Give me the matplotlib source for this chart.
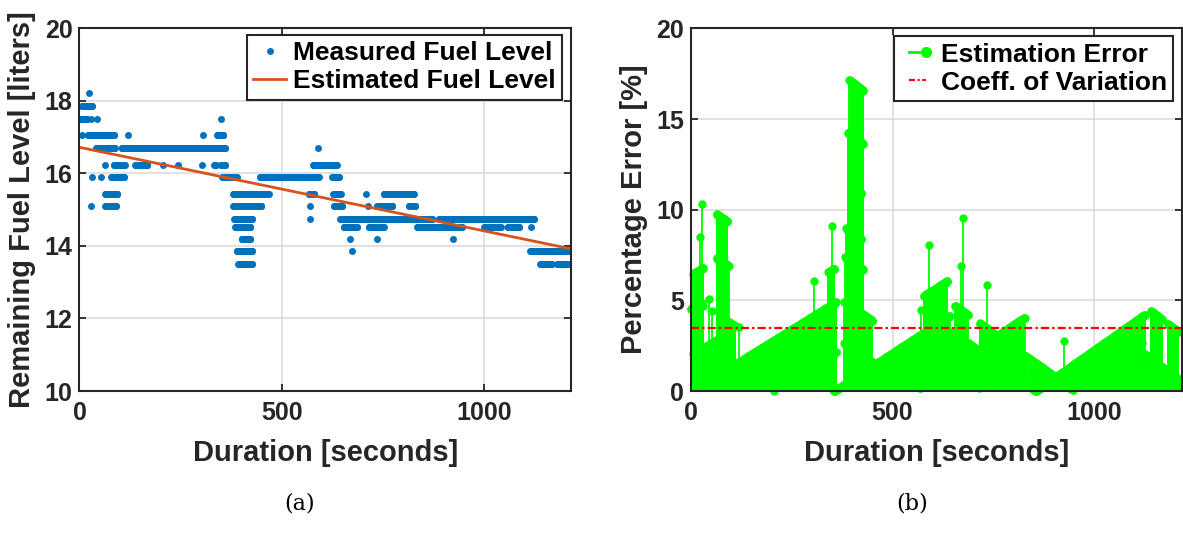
import numpy as np
import matplotlib
matplotlib.use("Agg")
import matplotlib.pyplot as plt
from matplotlib.lines import Line2D

# Fuel sensor readings, stored as runs of a constant reading:
# run_start / run_end in seconds (inclusive), run_level in liters.
run_start = [23, 6, 0, 28, 44, 350,
             6, 21, 119, 306, 341,
             42, 104, 590,
             64, 85, 138, 207, 244, 302, 333, 350, 578,
             31, 52, 79, 353, 446, 625,
             64, 380, 418, 567, 628, 708, 753,
             28, 64, 380, 571, 629, 714, 736, 815,
             383, 571, 645, 889,
             385, 654, 716, 836, 910, 1001, 1059, 1117,
             401, 669, 735, 924,
             389, 674, 1115,
             393, 1140, 1182]
run_end = [23, 31, 18, 28, 44, 350,
           6, 86, 119, 306, 356,
           87, 360, 590,
           64, 112, 168, 207, 244, 302, 337, 360, 636,
           31, 52, 110, 389, 592, 642,
           94, 410, 468, 581, 646, 708, 827,
           28, 91, 450, 571, 650, 714, 774, 831,
           427, 571, 873, 1125,
           423, 687, 753, 906, 947, 1042, 1088, 1117,
           423, 669, 735, 924,
           427, 674, 1216,
           427, 1168, 1207]
run_level = [18.21, 17.86, 17.51, 17.51, 17.51, 17.51,
             17.05, 17.05, 17.05, 17.05, 17.05,
             16.71, 16.71, 16.71,
             16.24, 16.24, 16.24, 16.24, 16.24, 16.24, 16.24, 16.24, 16.24,
             15.90, 15.90, 15.90, 15.90, 15.90, 15.90,
             15.44, 15.44, 15.44, 15.44, 15.44, 15.44, 15.44,
             15.10, 15.10, 15.10, 15.10, 15.10, 15.10, 15.10, 15.10,
             14.75, 14.75, 14.75, 14.75,
             14.53, 14.53, 14.53, 14.53, 14.53, 14.53, 14.53, 14.53,
             14.20, 14.20, 14.20, 14.20,
             13.85, 13.85, 13.85,
             13.50, 13.50, 13.50]

# linear fuel-consumption estimate (end points)
est_time = [0, 1216]
est_level = [16.72, 13.92]

coeff_variation = 3.47  # [%]

# expand runs to 1 Hz samples
t = np.concatenate([np.arange(s, e + 1) for s, e in zip(run_start, run_end)])
fuel = np.concatenate([np.full(e - s + 1, lv)
                       for s, e, lv in zip(run_start, run_end, run_level)])
est = np.interp(t, est_time, est_level)
err = np.abs(est - fuel) / fuel * 100

BLUE = "#0072BD"
ORANGE = "#D95319"
GREEN = "#00FF00"
AXC = "#262626"
DASHDOT = (3.6, 1.4, 1.1, 1.4)

plt.rcParams["font.family"] = ["Liberation Sans", "DejaVu Sans"]
plt.rcParams["font.weight"] = "bold"

fig = plt.figure(figsize=(11.83, 5.44), dpi=100)
ax1 = fig.add_axes([0.0672, 0.2812, 0.4155, 0.6667])
ax2 = fig.add_axes([0.5839, 0.2812, 0.4149, 0.6667])


def style(ax):
    for sp in ax.spines.values():
        sp.set_color(AXC)
        sp.set_linewidth(1.5)
    ax.tick_params(direction="in", length=5, width=1.3, color=AXC,
                   top=True, right=True, labelsize=18, labelcolor=AXC)
    ax.tick_params(axis="y", pad=5)
    ax.tick_params(axis="x", pad=7)
    ax.grid(True, color="#dcdcdc", linewidth=1.2)
    ax.set_axisbelow(True)
    for lab in ax.get_xticklabels() + ax.get_yticklabels():
        lab.set_fontweight("bold")


# (a) measured vs estimated fuel level
ax1.plot(t, fuel, "o", color=BLUE, markersize=5, markeredgewidth=0,
         label="Measured Fuel Level")
ax1.plot(est_time, est_level, "-", color=ORANGE, linewidth=2,
         label="Estimated Fuel Level")
ax1.set_xlim(0, 1216)
ax1.set_ylim(10, 20)
ax1.set_xticks([0, 500, 1000])
ax1.set_yticks([10, 12, 14, 16, 18, 20])
style(ax1)
ax1.set_xlabel("Duration [seconds]", fontsize=21, fontweight="bold",
               color=AXC, labelpad=10)
ax1.set_ylabel("Remaining Fuel Level [liters]", fontsize=21,
               fontweight="bold", color=AXC, labelpad=6)
leg1 = ax1.legend(loc="upper right", bbox_to_anchor=(0.982, 0.982),
                  borderaxespad=0, fontsize=19, handlelength=1.25,
                  handletextpad=0.25, labelspacing=0.15, borderpad=0.25,
                  fancybox=False, framealpha=1, edgecolor=AXC)
leg1.get_frame().set_linewidth(1.5)
for txt in leg1.get_texts():
    txt.set_fontweight("bold")

# (b) percentage error of the estimate
ax2.vlines(t, 0, err, color=GREEN, linewidth=1.3)
ax2.plot(t, err, "o", color=GREEN, markersize=6, markeredgewidth=0,
         clip_on=False)
ax2.axhline(coeff_variation, color="red", linestyle=(0, DASHDOT),
            linewidth=1.6)
ax2.set_xlim(0, 1216)
ax2.set_ylim(0, 20)
ax2.set_xticks([0, 500, 1000])
ax2.set_yticks([0, 5, 10, 15, 20])
style(ax2)
ax2.set_xlabel("Duration [seconds]", fontsize=21, fontweight="bold",
               color=AXC, labelpad=10)
ax2.set_ylabel("Percentage Error [%]", fontsize=21, fontweight="bold",
               color=AXC, labelpad=6)
h_err = Line2D([], [], color=GREEN, linewidth=2, marker="o", markersize=7)
h_cv = Line2D([], [], color="red", linestyle=(0, (2.7, 1.2, 0.9, 1.2)),
              linewidth=1.6)
leg2 = ax2.legend([h_err, h_cv], ["Estimation Error", "Coeff. of Variation"],
                  loc="upper right", bbox_to_anchor=(0.983, 0.979),
                  borderaxespad=0, fontsize=19, handlelength=1.25,
                  handletextpad=0.25, labelspacing=0.15, borderpad=0.25,
                  fancybox=False, framealpha=1, edgecolor=AXC, numpoints=2)
leg2.get_frame().set_linewidth(1.5)
leg2.get_lines()[0].set_markevery([1])
leg2.get_lines()[1].set_marker("")
for txt in leg2.get_texts():
    txt.set_fontweight("bold")

fig.text(0.2536, 0.075, "(a)", ha="center", va="center", fontsize=16,
         family="DejaVu Serif", fontweight="normal")
fig.text(0.771, 0.075, "(b)", ha="center", va="center", fontsize=16,
         family="DejaVu Serif", fontweight="normal")

fig.savefig("out.png", dpi=100, facecolor="white")
